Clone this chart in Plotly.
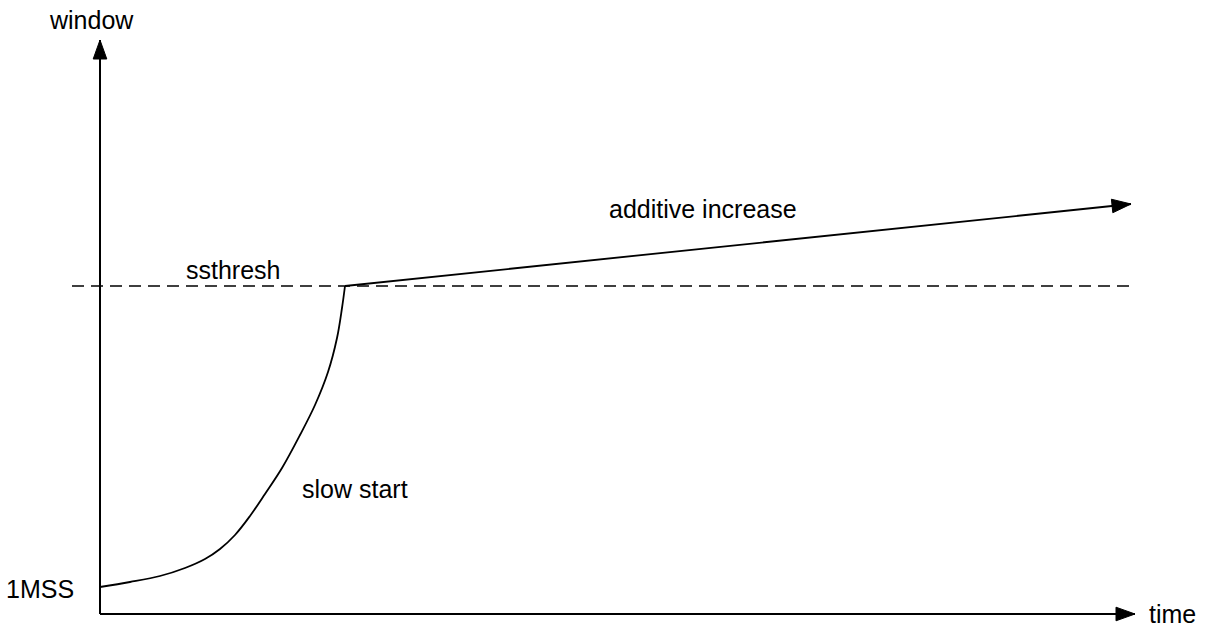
import numpy as np
import plotly.graph_objects as go

# ---- data (time, window) in diagram units; origin at the axes corner ----
slow_start_time = [0, 30, 60, 85, 105, 120, 135, 150, 165, 182, 200, 215, 228, 237, 242, 245]
slow_start_window = [27, 32, 38, 46, 55, 65, 79, 98, 120, 146, 179, 209, 242, 276, 306, 328]

ssthresh_value = 328
ssthresh_span = [-28, 1032]

additive_time = [245, 1031]
additive_window = [328, 410]

time_axis_end = 1035
window_axis_end = 574

labels = ["window", "1MSS", "ssthresh", "slow start", "additive increase", "time"]

# ---- figure ----
BLACK = "#000000"
FONT = dict(family="Liberation Sans, Arial, sans-serif", size=25, color=BLACK)

fig = go.Figure()


def arrow_head(tip_x, tip_y, from_x, from_y, length=19.0, half=6.8):
    d = np.array([tip_x - from_x, tip_y - from_y], dtype=float)
    d /= np.linalg.norm(d)
    n = np.array([-d[1], d[0]])
    tip = np.array([tip_x, tip_y], dtype=float)
    base = tip - d * length
    p1 = base + n * half
    p2 = base - n * half
    xs = [tip[0], p1[0], p2[0], tip[0]]
    ys = [tip[1], p1[1], p2[1], tip[1]]
    return xs, ys


def add_arrow_line(xs, ys, width=2):
    fig.add_trace(go.Scatter(x=xs, y=ys, mode="lines",
                             line=dict(color=BLACK, width=width),
                             hoverinfo="skip", showlegend=False))
    hx, hy = arrow_head(xs[-1], ys[-1], xs[-2], ys[-2])
    fig.add_trace(go.Scatter(x=hx, y=hy, mode="lines", fill="toself",
                             fillcolor=BLACK, line=dict(color=BLACK, width=1),
                             hoverinfo="skip", showlegend=False))


# axes
add_arrow_line([0, 0], [0, window_axis_end])
add_arrow_line([0, time_axis_end], [0, 0])

# ssthresh dashed line
fig.add_trace(go.Scatter(x=ssthresh_span, y=[ssthresh_value, ssthresh_value],
                         mode="lines",
                         line=dict(color=BLACK, width=1.6, dash="12px,7px"),
                         hoverinfo="skip", showlegend=False))

# slow start curve
fig.add_trace(go.Scatter(x=slow_start_time, y=slow_start_window, mode="lines",
                         line=dict(color=BLACK, width=1.8, shape="spline", smoothing=1.0),
                         hoverinfo="skip", showlegend=False))

# additive increase
add_arrow_line(additive_time, additive_window, width=1.8)

# text labels
label_pos = [
    (-9, 594, "center"),      # window
    (-60, 25, "center"),      # 1MSS
    (133, 344, "center"),     # ssthresh
    (255, 125, "center"),     # slow start
    (603, 405, "center"),     # additive increase
    (1048, 0, "left"),        # time
]
for text, (x, y, xa) in zip(labels, label_pos):
    fig.add_annotation(x=x, y=y, text=text, showarrow=False,
                       xanchor=xa, yanchor="middle", font=FONT, borderpad=0)

fig.update_layout(
    width=1207, height=631,
    margin=dict(l=0, r=0, t=0, b=0),
    paper_bgcolor="white", plot_bgcolor="white",
    xaxis=dict(range=[-100, 1107], visible=False, fixedrange=True),
    yaxis=dict(range=[-17, 614], visible=False, fixedrange=True),
    showlegend=False,
    hovermode=False,
)

# remove the default page margin so the figure fills the window exactly
fig.write_html("out.html",
               config={"displayModeBar": False, "staticPlot": True},
               post_script="document.body.style.margin='0';"
                           "document.body.style.overflow='hidden';")
